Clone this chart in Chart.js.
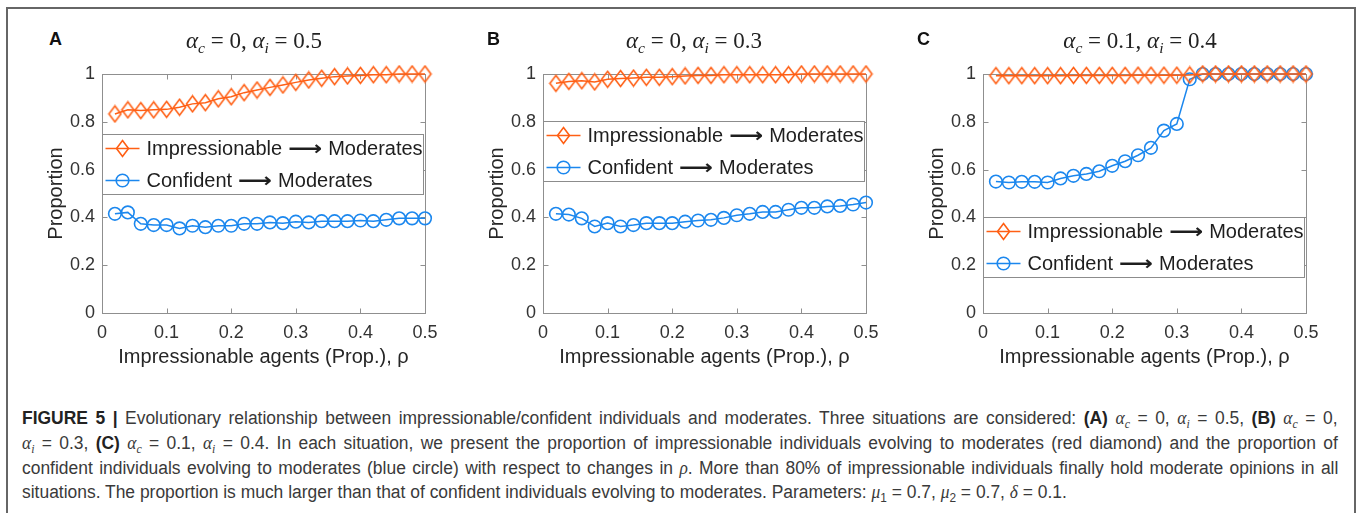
<!DOCTYPE html>
<html>
<head>
<meta charset="utf-8">
<script src="https://cdn.jsdelivr.net/npm/chart.js@4.4.0/dist/chart.umd.min.js"></script>
<style>
  body { margin: 0; width: 1358px; height: 513px; background: #fff; position: relative; overflow: hidden;
         font-family: "Liberation Sans", Arial, sans-serif; }
  #frame { position: absolute; left: 6px; top: 7px; width: 1346px; height: 540px; border: 2px solid #666; border-bottom: none; }
  canvas.plot { position: absolute; top: 55px; }
  .letter { position: absolute; top: 30px; font-weight: bold; font-size: 18px; line-height: 18px; color: #111; }
  .ttl { position: absolute; top: 28px; width: 300px; text-align: center; font-family: "Liberation Serif", serif;
         font-size: 23px; line-height: 26px; color: #222; white-space: nowrap; }
  .ttl sub, .cap sub { font-size: 0.68em; vertical-align: -0.3em; line-height: 0; }
  .cap { position: absolute; left: 22px; font-size: 18px; line-height: 24px; color: #3a3a3a; white-space: nowrap;
         transform-origin: 0 50%; }
  .cap b { color: #222; }
  .m { font-family: "Liberation Serif", serif; font-style: italic; }
</style>
</head>
<body>
<div id="frame"></div>
<canvas class="plot" id="cA" width="430" height="320" style="left:20px"></canvas>
<canvas class="plot" id="cB" width="430" height="320" style="left:461px"></canvas>
<canvas class="plot" id="cC" width="430" height="320" style="left:901px"></canvas>

<div class="cap" style="top:406px"><b>FIGURE 5 |</b> Evolutionary relationship between impressionable/confident individuals and moderates. Three situations are considered: <b>(A)</b> <i class="m">α</i><sub class="m">c</sub> = 0, <i class="m">α</i><sub class="m">i</sub> = 0.5, <b>(B)</b> <i class="m">α</i><sub class="m">c</sub> = 0,</div>
<div class="cap" style="top:431px"><i class="m">α</i><sub class="m">i</sub> = 0.3, <b>(C)</b> <i class="m">α</i><sub class="m">c</sub> = 0.1, <i class="m">α</i><sub class="m">i</sub> = 0.4. In each situation, we present the proportion of impressionable individuals evolving to moderates (red diamond) and the proportion of</div>
<div class="cap" style="top:456px">confident individuals evolving to moderates (blue circle) with respect to changes in <i class="m">ρ</i>. More than 80% of impressionable individuals finally hold moderate opinions in all</div>
<div class="cap" style="top:480px">situations. The proportion is much larger than that of confident individuals evolving to moderates. Parameters: <i class="m">μ</i><sub>1</sub> = 0.7, <i class="m">μ</i><sub>2</sub> = 0.7, <i class="m">δ</i> = 0.1.</div>

<script>
// x values (rho) shared by all three panels
const rho = [0.02, 0.04, 0.06, 0.08, 0.10, 0.12, 0.14, 0.16, 0.18, 0.20, 0.22, 0.24, 0.26,
             0.28, 0.30, 0.32, 0.34, 0.36, 0.38, 0.40, 0.42, 0.44, 0.46, 0.48, 0.50];
const xTicks = [0, 0.1, 0.2, 0.3, 0.4, 0.5];
const yTicks = [0, 0.2, 0.4, 0.6, 0.8, 1];

// panel A: alpha_c = 0, alpha_i = 0.5
const impA  = [0.833, 0.850, 0.847, 0.850, 0.852, 0.861, 0.875, 0.880, 0.896, 0.905, 0.922, 0.933, 0.944,
               0.954, 0.965, 0.975, 0.982, 0.989, 0.992, 0.994, 0.997, 0.997, 1.000, 1.000, 1.000];
const confA = [0.415, 0.421, 0.373, 0.368, 0.368, 0.354, 0.365, 0.359, 0.365, 0.365, 0.373, 0.373, 0.379,
               0.376, 0.382, 0.379, 0.384, 0.384, 0.384, 0.387, 0.384, 0.390, 0.396, 0.396, 0.396];
// panel B: alpha_c = 0, alpha_i = 0.3
const impB  = [0.961, 0.969, 0.972, 0.967, 0.978, 0.981, 0.983, 0.986, 0.986, 0.989, 0.992, 0.994, 0.994,
               0.997, 0.997, 0.997, 0.997, 0.997, 0.997, 1.000, 1.000, 1.000, 1.000, 1.000, 1.000];
const confB = [0.415, 0.412, 0.396, 0.362, 0.376, 0.362, 0.368, 0.376, 0.376, 0.376, 0.382, 0.387, 0.390,
               0.398, 0.409, 0.415, 0.423, 0.423, 0.432, 0.440, 0.440, 0.446, 0.448, 0.454, 0.462];
// panel C: alpha_c = 0.1, alpha_i = 0.4
const impC  = [0.993, 0.993, 0.993, 0.993, 0.993, 0.993, 0.994, 0.994, 0.994, 0.994, 0.994, 0.995, 0.995,
               0.995, 0.995, 0.996, 1.000, 1.000, 1.000, 1.000, 1.000, 1.000, 1.000, 1.000, 1.000];
const confC = [0.550, 0.546, 0.549, 0.549, 0.546, 0.563, 0.574, 0.582, 0.593, 0.616, 0.635, 0.660, 0.691,
               0.763, 0.791, 0.978, 1.000, 1.000, 1.000, 1.000, 1.000, 1.000, 1.000, 1.000, 1.000];

const panelLetters = ['A', 'B', 'C'];
const alphaC = ['0', '0', '0.1'];
const alphaI = ['0.5', '0.3', '0.4'];
const seriesNames = ['Impressionable ⟶ Moderates', 'Confident ⟶ Moderates'];
const xTitle = 'Impressionable agents (Prop.), ρ';
const yTitle = 'Proportion';

const ORANGE = '#ff5f14';
const BLUE = '#1b87ee';

const panels = [
  { id: 'cA', imp: impA, conf: confA, legendTop: 60, letterX: 49, titleX: 254 },
  { id: 'cB', imp: impB, conf: confB, legendTop: 47, letterX: 487, titleX: 694 },
  { id: 'cC', imp: impC, conf: confC, legendTop: 143, letterX: 917, titleX: 1140 }
];

Chart.defaults.font.family = '"Liberation Sans", Arial, sans-serif';
Chart.defaults.color = '#333';

// matlab style diamond is a bit taller than wide
function diamond(color) {
  const c = document.createElement('canvas');
  c.width = 15; c.height = 19;
  const g = c.getContext('2d');
  g.strokeStyle = color;
  g.lineWidth = 1.6;
  g.beginPath();
  g.moveTo(7.5, 1.5); g.lineTo(13.5, 9.5); g.lineTo(7.5, 17.5); g.lineTo(1.5, 9.5);
  g.closePath();
  g.stroke();
  return c;
}

const insetPlugin = {
  id: 'inset',
  beforeDatasetsDraw(chart) {
    const { ctx, chartArea: a, scales: { x, y } } = chart;
    const L = Math.round(a.left) + 0.5, T = Math.round(a.top) + 0.5;
    const R = Math.round(a.right) + 0.5, B = Math.round(a.bottom) + 0.5;
    ctx.save();
    ctx.strokeStyle = '#8f8f8f';
    ctx.lineWidth = 1;
    ctx.strokeRect(L, T, R - L, B - T);
    ctx.beginPath();
    xTicks.forEach(v => {
      const px = Math.round(x.getPixelForValue(v)) + 0.5;
      ctx.moveTo(px, B); ctx.lineTo(px, B - 5);
      ctx.moveTo(px, T); ctx.lineTo(px, T + 5);
    });
    yTicks.forEach(v => {
      const py = Math.round(y.getPixelForValue(v)) + 0.5;
      ctx.moveTo(L, py); ctx.lineTo(L + 5, py);
      ctx.moveTo(R, py); ctx.lineTo(R - 5, py);
    });
    ctx.stroke();
    ctx.restore();
  },
  afterDatasetsDraw(chart, args, opts) {
    const { ctx, chartArea: a } = chart;
    const x0 = Math.round(a.left) + 0.5, y0 = Math.round(a.top + opts.legendTop) + 0.5;
    const w = 321, h = 60;
    ctx.save();
    ctx.fillStyle = '#fff';
    ctx.fillRect(x0, y0, w, h);
    ctx.strokeStyle = '#8c8c8c';
    ctx.lineWidth = 1;
    ctx.strokeRect(x0, y0, w, h);
    chart.data.datasets.forEach((ds, i) => {
      const yy = y0 + [14, 46][i];
      ctx.strokeStyle = ds.borderColor;
      ctx.lineWidth = 1.5;
      ctx.beginPath(); ctx.moveTo(x0 + 3, yy); ctx.lineTo(x0 + 37, yy); ctx.stroke();
      if (typeof ds.pointStyle === 'object') {
        ctx.drawImage(ds.pointStyle, x0 + 20 - ds.pointStyle.width / 2, yy - ds.pointStyle.height / 2);
      } else {
        ctx.lineWidth = ds.pointBorderWidth;
        ctx.beginPath(); ctx.arc(x0 + 20, yy, ds.pointRadius, 0, Math.PI * 2); ctx.stroke();
      }
      const parts = ds.label.split(' ⟶ ');
      ctx.fillStyle = '#1e1e1e';
      ctx.textBaseline = 'middle';
      ctx.font = '20px "Liberation Sans", Arial, sans-serif';
      let tx = x0 + 44;
      ctx.fillText(parts[0], tx, yy + 1);
      tx += ctx.measureText(parts[0]).width + 6;
      ctx.font = 'bold 20px "DejaVu Sans", sans-serif';
      const aw = ctx.measureText('⟶').width;
      ctx.save();
      ctx.translate(tx, yy + 1);
      ctx.scale(34 / aw, 1);
      ctx.fillText('⟶', 0, 0);
      ctx.restore();
      tx += 34 + 6;
      ctx.font = '20px "Liberation Sans", Arial, sans-serif';
      ctx.fillText(parts[1], tx, yy + 1);
    });
    ctx.restore();
  }
};

panels.forEach((p, k) => {
  const letter = document.createElement('div');
  letter.className = 'letter';
  letter.style.left = p.letterX + 'px';
  letter.textContent = panelLetters[k];
  document.body.appendChild(letter);

  const ttl = document.createElement('div');
  ttl.className = 'ttl';
  ttl.style.left = (p.titleX - 150) + 'px';
  ttl.innerHTML = '<i>α</i><sub><i>c</i></sub> = ' + alphaC[k] + ', <i>α</i><sub><i>i</i></sub> = ' + alphaI[k];
  document.body.appendChild(ttl);

  new Chart(document.getElementById(p.id), {
    type: 'line',
    data: {
      datasets: [
        {
          label: seriesNames[0],
          data: rho.map((x, i) => ({ x: x, y: p.imp[i] })),
          borderColor: ORANGE, borderWidth: 1.5,
          pointStyle: diamond(ORANGE), pointRadius: 7,
          clip: false
        },
        {
          label: seriesNames[1],
          data: rho.map((x, i) => ({ x: x, y: p.conf[i] })),
          borderColor: BLUE, borderWidth: 1.5,
          pointStyle: 'circle', pointRadius: 6.3, pointBorderWidth: 1.6,
          pointBorderColor: BLUE, pointBackgroundColor: 'rgba(0,0,0,0)',
          clip: false
        }
      ]
    },
    options: {
      responsive: false,
      animation: false,
      events: [],
      layout: { padding: { top: 19, right: 25, left: 0, bottom: 0 } },
      plugins: {
        legend: { display: false },
        tooltip: { enabled: false },
        inset: { legendTop: p.legendTop }
      },
      scales: {
        x: {
          type: 'linear', min: 0, max: 0.5,
          grid: { display: false, drawTicks: false },
          border: { display: false },
          afterBuildTicks: s => { s.ticks = xTicks.map(v => ({ value: v })); },
          afterFit: s => { s.height = 62; },
          ticks: { padding: 9, font: { size: 18 }, color: '#333', maxRotation: 0, autoSkip: false,
                   callback: v => String(v) },
          title: { display: true, text: xTitle, font: { size: 20 }, color: '#262626',
                   padding: { top: 0, bottom: 6 } }
        },
        y: {
          type: 'linear', min: 0, max: 1,
          grid: { display: false, drawTicks: false },
          border: { display: false },
          afterBuildTicks: s => { s.ticks = yTicks.map(v => ({ value: v })); },
          afterFit: s => { s.width = 82; },
          ticks: { padding: 7, font: { size: 18 }, color: '#333', autoSkip: false,
                   callback: v => String(v) },
          title: { display: true, text: yTitle, font: { size: 20 }, color: '#262626',
                   padding: { top: 24, bottom: 0 } }
        }
      }
    },
    plugins: [insetPlugin]
  });
});

// caption: narrow the glyphs like the journal's condensed face (last line sets the squeeze),
// then stretch word gaps a little so the first three lines are justified
const caps = Array.from(document.querySelectorAll('.cap'));
const last = caps[caps.length - 1];
const squeeze = 1045 / last.offsetWidth;
caps.forEach((c, i) => {
  c.style.transform = 'scaleX(' + squeeze + ')';
  if (i < caps.length - 1) {
    const gaps = (c.textContent.match(/ /g) || []).length;
    const extra = (1316 / squeeze - c.offsetWidth) / gaps;
    c.style.wordSpacing = extra + 'px';
  }
});
</script>
</body>
</html>
